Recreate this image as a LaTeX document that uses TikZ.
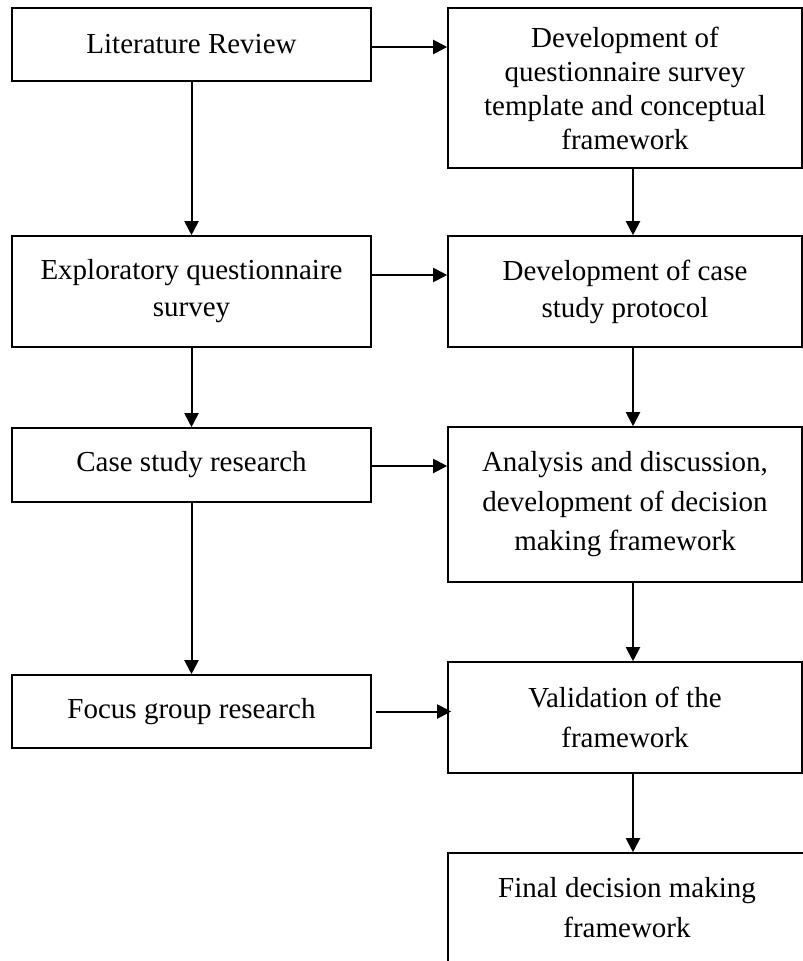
\documentclass[tikz,border=0pt]{standalone}
\usepackage{fontspec}
\setmainfont{Liberation Serif}
\usetikzlibrary{arrows.meta}
\begin{document}
\begin{tikzpicture}[x=1pt,y=-1pt,
  box/.style={draw=black,line width=1.6pt,inner sep=0pt,align=center,
    font=\fontsize{29}{37}\selectfont},
  arr/.style={draw=black,line width=2pt,-{Triangle[length=14pt,width=14pt]}}]
\useasboundingbox (0,0) rectangle (803,961);
\clip (0,0) rectangle (803,961);
% left column
\node[box,minimum width=359pt,minimum height=73pt] (L1) at (191.5,44.5) {Literature Review};
\node[box,minimum width=359pt,minimum height=111pt] (L2) at (191.5,291.5) {Exploratory questionnaire\\survey};
\node[box,minimum width=359pt,minimum height=74pt] (L3) at (191.5,465) {Case study research};
\node[box,minimum width=359pt,minimum height=73pt] (L4) at (191.5,711.5) {Focus group research};
% right column
\node[box,minimum width=354pt,minimum height=160pt,font=\fontsize{29}{34}\selectfont] (R1) at (625,88) {Development of\\questionnaire survey\\template and conceptual\\framework};
\node[box,minimum width=354pt,minimum height=111pt] (R2) at (625,291.5) {Development of case\\study protocol};
\node[box,minimum width=354pt,minimum height=155pt,font=\fontsize{29}{39.5}\selectfont] (R3) at (625,504.5) {Analysis and discussion,\\development of decision\\making framework};
\node[box,minimum width=354pt,minimum height=111pt,font=\fontsize{29}{40}\selectfont] (R4) at (625,717.5) {Validation of the\\framework};
\node[box,minimum width=358pt,minimum height=110pt,font=\fontsize{29}{40}\selectfont] (R5) at (627,908) {Final decision making\\framework};
% horizontal arrows
\draw[arr] ([yshift=-2.5pt]L1.east) -- ([yshift=-2.5pt]L1.east -| R1.west);
\draw[arr] ([yshift=16.5pt]L2.east) -- ([yshift=16.5pt]L2.east -| R2.west);
\draw[arr] ([yshift=-1pt]L3.east) -- ([yshift=-1pt]L3.east -| R3.west);
\draw[arr] ([xshift=4pt]L4.east) -- ([xshift=4pt]L4.east -| R4.west);
% vertical arrows left
\draw[arr] (L1.south) -- (L2.north);
\draw[arr] (L2.south) -- (L3.north);
\draw[arr] (L3.south) -- (L4.north);
% vertical arrows right
\draw[arr] ([xshift=8pt]R1.south) -- ([xshift=8pt]R1.south |- R2.north);
\draw[arr] ([xshift=8pt]R2.south) -- ([xshift=8pt]R2.south |- R3.north);
\draw[arr] ([xshift=8pt]R3.south) -- ([xshift=8pt]R3.south |- R4.north);
\draw[arr] ([xshift=8pt]R4.south) -- ([xshift=8pt]R4.south |- R5.north);
\end{tikzpicture}
\end{document}
